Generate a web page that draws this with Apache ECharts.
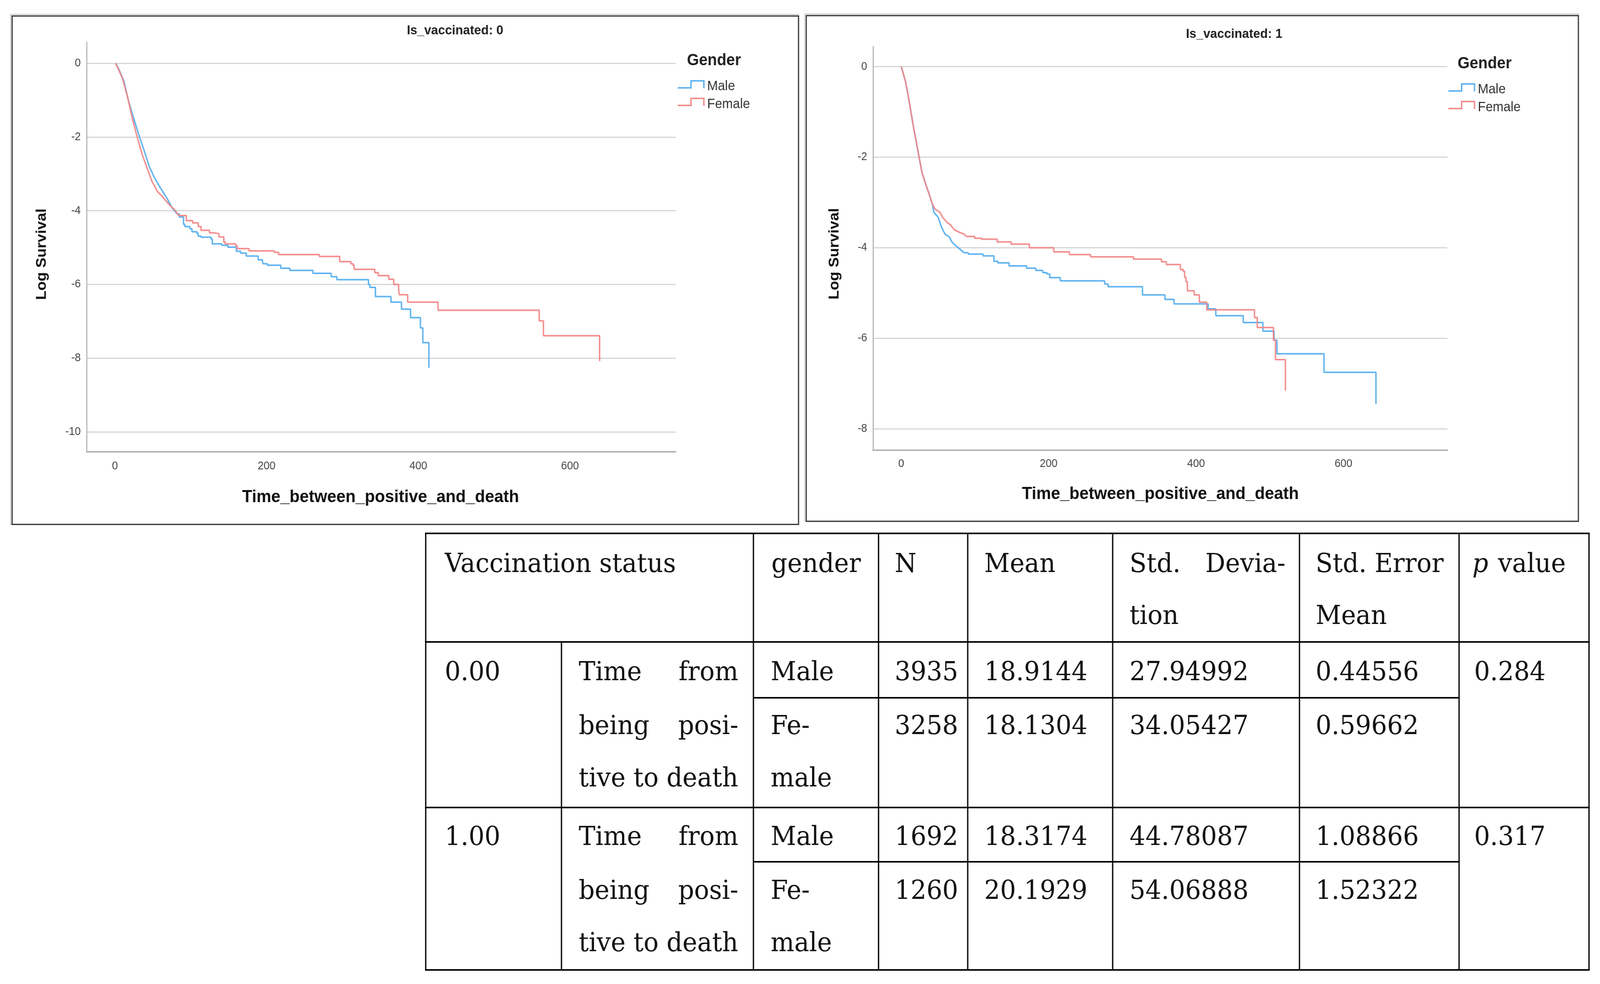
<!DOCTYPE html>
<html>
<head>
<meta charset="utf-8">
<script src="https://cdn.jsdelivr.net/npm/echarts@6/dist/echarts.min.js"></script>
<style>html,body{margin:0;padding:0;background:#fff;overflow:hidden;}#wrap{width:4360px;height:2520px;transform-origin:0 0;}#c{width:4360px;height:2520px;}</style>
</head>
<body>
<div id="wrap"><div id="c"></div></div>
<script>
// ---------------- data: panel 0 (Is_vaccinated: 0) ----------------
const unvacMaleEarly = [[1,0],[5,-0.15],[11.8,-0.48],[18.3,-1.05],[24.8,-1.49],[32.5,-2.0],[39.6,-2.43],[45.1,-2.79],[52.5,-3.12],[61.8,-3.44],[69.2,-3.68],[75.7,-3.93],[82.2,-4.09]];
const unvacMaleSteps = [[82.2,-4.09],[85,-4.17],[90.5,-4.37],[92.3,-4.43],[98.8,-4.49],[101.6,-4.57],[108,-4.61],[109.9,-4.69],[113.6,-4.72],[126.9,-4.77],[128.4,-4.90],[140.8,-4.94],[149.1,-4.99],[158.4,-5.01],[160.2,-5.10],[165.8,-5.15],[173.2,-5.23],[188.9,-5.33],[194.5,-5.37],[195.4,-5.44],[201,-5.48],[218.6,-5.56],[230.6,-5.62],[261.1,-5.70],[285.2,-5.79],[292.6,-5.87],[334.3,-6.0],[336.1,-6.08],[343.5,-6.33],[363.9,-6.48],[377.8,-6.67],[389.8,-6.90],[402.8,-7.18],[406,-7.58],[414,-8.26]];
const unvacFemaleEarly = [[1,0],[9.9,-0.40],[16.4,-0.89],[22.9,-1.49],[29.4,-2.0],[35.9,-2.47],[42.3,-2.83],[48.8,-3.20],[56.2,-3.48],[63.6,-3.64],[71,-3.82],[78.5,-3.97],[84,-4.13]];
const unvacFemaleSteps = [[84,-4.13],[94.2,-4.27],[102.5,-4.33],[109.9,-4.43],[113.6,-4.53],[124.7,-4.60],[129.7,-4.62],[137.1,-4.71],[143.6,-4.85],[145.4,-4.90],[159.3,-4.95],[161.2,-5.03],[176.9,-5.09],[210.2,-5.13],[215.8,-5.19],[269.5,-5.24],[296.3,-5.38],[311.1,-5.44],[313.9,-5.48],[315.4,-5.59],[342.6,-5.68],[347.2,-5.76],[361.1,-5.86],[367.6,-6.0],[374.1,-6.15],[375,-6.28],[386,-6.48],[426,-6.70],[559.4,-6.99],[565,-7.39],[639,-8.08]];

// ---------------- data: panel 1 (Is_vaccinated: 1) ----------------
const vacMaleEarly = [[0,0],[6.1,-0.35],[10.9,-0.78],[15.6,-1.24],[20.4,-1.67],[24.2,-2.0],[28,-2.33],[33.7,-2.62],[38.5,-2.85],[42.3,-3.04],[44.2,-3.22],[49.9,-3.32],[54.7,-3.55],[59.5,-3.70],[65.2,-3.76],[69,-3.88],[75.7,-3.98],[80.4,-4.04],[85.2,-4.11]];
const vacMaleSteps = [[85.2,-4.11],[90.9,-4.14],[110.9,-4.18],[125.7,-4.30],[131,-4.335],[146.3,-4.40],[170.1,-4.45],[182.5,-4.50],[192,-4.55],[197.7,-4.58],[201.5,-4.66],[215.8,-4.73],[275.9,-4.80],[280.6,-4.86],[327.3,-5.04],[357.8,-5.14],[370.2,-5.24],[416.4,-5.35],[426.8,-5.50],[464,-5.65],[490.7,-5.84],[505.9,-6.04],[509.8,-6.34],[573.6,-6.75],[644.1,-7.445]];
const vacFemaleEarly = [[0,0],[6.1,-0.35],[10.9,-0.78],[15.6,-1.24],[20.4,-1.67],[24.2,-2.0],[28,-2.33],[33.7,-2.62],[38.5,-2.85],[42.3,-3.04],[46.1,-3.15],[52.8,-3.22],[55.7,-3.32],[61.4,-3.43],[67.1,-3.50],[71.9,-3.60],[77.6,-3.65],[85.2,-3.70],[88.1,-3.75]];
const vacFemaleSteps = [[88.1,-3.75],[99.5,-3.79],[109,-3.81],[130.1,-3.87],[149.1,-3.92],[173.9,-4.0],[206.9,-4.09],[228.2,-4.15],[256.8,-4.20],[315,-4.25],[353.1,-4.31],[359.7,-4.37],[378.8,-4.48],[382.6,-4.52],[384.5,-4.65],[386.4,-4.75],[388.3,-4.95],[397.5,-5.04],[404.5,-5.20],[414.5,-5.37],[479.3,-5.54],[483.1,-5.76],[505,-6.04],[507.8,-6.47],[521.2,-7.15]];

// ---------------- ticks / labels ----------------
const xTicks = [0, 200, 400, 600];
const yTicks0 = [-10, -8, -6, -4, -2, 0];
const yTicks1 = [-8, -6, -4, -2, 0];
const panelTitles = ['Is_vaccinated: 0', 'Is_vaccinated: 1'];
const xAxisTitle = 'Time_between_positive_and_death';
const yAxisTitle = 'Log Survival';
const legendTitle = 'Gender';
const legendNames = ['Male', 'Female'];

// ---------------- table ----------------
const tableHeader = ['Vaccination status', 'gender', 'N', 'Mean', 'Std.', 'Devia-', 'tion', 'Std. Error', 'Mean', 'p', 'value'];
const vaccStatus = ['0.00', '1.00'];
const measureText = ['Time', 'from', 'being', 'posi-', 'tive to death'];
const genderText = ['Male', 'Fe-', 'male'];
const nValues = [['3935', '3258'], ['1692', '1260']];
const meanValues = [['18.9144', '18.1304'], ['18.3174', '20.1929']];
const stdDevValues = [['27.94992', '34.05427'], ['44.78087', '54.06888']];
const stdErrValues = [['0.44556', '0.59662'], ['1.08866', '1.52322']];
const pValues = ['0.284', '0.317'];

const BLUE = '#52adf0';
const RED = '#f28484';
const SANS = '"Liberation Sans", Arial, sans-serif';
const SERIF = '"DejaVu Serif", serif';

// fit the 4360x2520 drawing into the actual viewport
(function () {
  const sx = window.innerWidth / 4360, sy = window.innerHeight / 2520;
  if (sx > 0 && sy > 0 && (Math.abs(sx - 1) > 0.001 || Math.abs(sy - 1) > 0.001)) {
    document.getElementById('wrap').style.transform = 'scale(' + sx + ',' + sy + ')';
  }
})();

const chart = echarts.init(document.getElementById('c'), null, {renderer: 'canvas', width: 4360, height: 2520});

function xAxisCfg(gi, min, max, margin) {
  return {
    gridIndex: gi, type: 'value', min: min, max: max,
    axisLine: {show: true, onZero: false, lineStyle: {color: '#b5b5b5', width: 4}},
    axisTick: {show: false},
    splitLine: {show: false},
    axisLabel: {customValues: xTicks, color: '#444', fontSize: 29, fontFamily: SANS, margin: margin}
  };
}
function yAxisCfg(gi, min, max, ticks) {
  return {
    gridIndex: gi, type: 'value', min: min, max: max,
    axisLine: {show: true, onZero: false, lineStyle: {color: '#b5b5b5', width: 3}},
    axisTick: {show: false, customValues: ticks},
    splitLine: {show: true, lineStyle: {color: '#d6d6d6', width: 3}},
    axisLabel: {customValues: ticks, color: '#444', fontSize: 29, fontFamily: SANS, margin: 16}
  };
}
function ser(name, data, gi, color, step, z) {
  return {
    type: 'line', name: name, xAxisIndex: gi, yAxisIndex: gi, data: data,
    showSymbol: false, symbol: 'none', step: step ? 'end' : false, smooth: false,
    lineStyle: {color: color, width: 4, opacity: 0.9}, itemStyle: {color: color},
    silent: true, z: z, animation: false
  };
}

// ---------- graphics ----------
const g = [];
function frame(x, y, w, h) {
  g.push({type: 'rect', shape: {x: x - 4, y: y - 4, width: w + 4, height: h + 4}, style: {fill: 'none', stroke: '#cfcfcf', lineWidth: 3}, silent: true});
  g.push({type: 'rect', shape: {x: x, y: y, width: w, height: h}, style: {fill: 'none', stroke: '#2e2e2e', lineWidth: 3}, silent: true});
}
frame(33, 41, 2143, 1302);
frame(2197, 40, 2104, 1295);

function txt(text, x, y, font, color, align, extra) {
  const el = {type: 'text', x: x, y: y, silent: true,
    style: {text: text, font: font, fill: color, textAlign: align || 'left', textVerticalAlign: 'middle', align: align || 'left', verticalAlign: 'middle'}};
  if (extra) Object.assign(el, extra);
  g.push(el);
}
// titles
txt(panelTitles[0], 1240, 79, 'bold 34px ' + SANS, '#222', 'center');
txt(panelTitles[1], 3363, 88, 'bold 34px ' + SANS, '#222', 'center');
// axis titles
txt(xAxisTitle, 1037, 1274, 'bold 45px ' + SANS, '#111', 'center');
txt(xAxisTitle, 3162, 1266, 'bold 45px ' + SANS, '#111', 'center');
txt(yAxisTitle, 114, 651, 'bold 39px ' + SANS, '#111', 'center', {rotation: Math.PI / 2});
txt(yAxisTitle, 2274, 650, 'bold 39px ' + SANS, '#111', 'center', {rotation: Math.PI / 2});
// legends
function legend(dx, dy) {
  txt(legendTitle, 1872 + dx, 155 + dy, 'bold 42px ' + SANS, '#222', 'left');
  const cols = [BLUE, RED];
  for (let i = 0; i < 2; i++) {
    const yl = 225 + dy + i * 45, yh = 207 + dy + i * 45;
    g.push({type: 'polyline', silent: true, shape: {points: [[1847 + dx, yl], [1883 + dx, yl], [1883 + dx, yh], [1918 + dx, yh], [1918 + dx, yl + 1]]},
      style: {stroke: cols[i], lineWidth: 4, fill: 'none', opacity: 0.9}});
    txt(legendNames[i], 1927 + dx, 221 + dy + i * 46, '35px ' + SANS, '#333', 'left');
  }
}
legend(0, 0);
legend(2100, 8);

// table lines
const colX = [1160, 1530, 2053, 2394, 2637, 3032, 3541, 3976, 4330];
const TOP = 1366, HDR = 1644, BOT = 2484;
const groupTop = [1644, 2068];
function hline(x1, x2, y) { g.push({type: 'line', silent: true, shape: {x1: x1, y1: y, x2: x2, y2: y}, style: {stroke: '#000', lineWidth: 4}}); }
function vline(x, y1, y2) { g.push({type: 'line', silent: true, shape: {x1: x, y1: y1, x2: x, y2: y2}, style: {stroke: '#000', lineWidth: 3.5}}); }
hline(colX[0] - 2, colX[8] + 2, TOP);
hline(colX[0] - 2, colX[8] + 2, HDR);
hline(colX[0] - 2, colX[8] + 2, groupTop[1]);
hline(colX[0] - 2, colX[8] + 2, BOT);
hline(colX[2], colX[7], groupTop[0] + 143);
hline(colX[2], colX[7], groupTop[1] + 139);
colX.forEach(function (x, i) { vline(x, i === 1 ? HDR : TOP, BOT); });

// table text
const TF = '68px ' + SERIF;
const TC = '#111';
const hy1 = 1447, hy2 = 1580;
txt(tableHeader[0], 1212, hy1, TF, TC);
txt(tableHeader[1], 2102, hy1, TF, TC);
txt(tableHeader[2], 2438, hy1, TF, TC);
txt(tableHeader[3], 2682, hy1, TF, TC);
txt(tableHeader[4], 3078, hy1, TF, TC);
txt(tableHeader[5], 3503, hy1, TF, TC, 'right');
txt(tableHeader[6], 3078, hy2, TF, TC);
txt(tableHeader[7], 3585, hy1, TF, TC);
txt(tableHeader[8], 3585, hy2, TF, TC);
txt(tableHeader[9], 4012, hy1, 'italic ' + TF, TC);
txt(tableHeader[10], 4082, hy1, TF, TC);

const lineOff = [80, 218, 352];
for (let k = 0; k < 2; k++) {
  const t0 = groupTop[k];
  const y1 = t0 + lineOff[0] - (k ? 2 : 0), y2 = t0 + lineOff[1] - (k ? 2 : 0), y3 = t0 + lineOff[2] - (k ? 2 : 0);
  txt(vaccStatus[k], 1212, y1, TF, TC);
  txt(measureText[0], 1577, y1, TF, TC);
  txt(measureText[1], 2012, y1, TF, TC, 'right');
  txt(measureText[2], 1577, y2, TF, TC);
  txt(measureText[3], 2012, y2, TF, TC, 'right');
  txt(measureText[4], 1577, y3, TF, TC);
  txt(genderText[0], 2100, y1, TF, TC);
  txt(genderText[1], 2100, y2, TF, TC);
  txt(genderText[2], 2100, y3, TF, TC);
  txt(nValues[k][0], 2438, y1, TF, TC);
  txt(nValues[k][1], 2438, y2, TF, TC);
  txt(meanValues[k][0], 2682, y1, TF, TC);
  txt(meanValues[k][1], 2682, y2, TF, TC);
  txt(stdDevValues[k][0], 3078, y1, TF, TC);
  txt(stdDevValues[k][1], 3078, y2, TF, TC);
  txt(stdErrValues[k][0], 3585, y1, TF, TC);
  txt(stdErrValues[k][1], 3585, y2, TF, TC);
  txt(pValues[k], 4017, y1, TF, TC);
}

const option = {
  backgroundColor: '#ffffff',
  animation: false,
  grid: [
    {left: 236, top: 108, width: 1605, height: 1049, containLabel: false},
    {left: 2379, top: 119, width: 1565, height: 1034, containLabel: false}
  ],
  xAxis: [xAxisCfg(0, -37.25, 739.2, 22), xAxisCfg(1, -38.3, 741, 20)],
  yAxis: [yAxisCfg(0, -10.54, 0.572, yTicks0), yAxisCfg(1, -8.47, 0.444, yTicks1)],
  series: [
    ser('Male', unvacMaleEarly, 0, BLUE, false, 2),
    ser('Male', unvacMaleSteps, 0, BLUE, true, 2),
    ser('Female', unvacFemaleEarly, 0, RED, false, 3),
    ser('Female', unvacFemaleSteps, 0, RED, true, 3),
    ser('Male', vacMaleEarly, 1, BLUE, false, 2),
    ser('Male', vacMaleSteps, 1, BLUE, true, 2),
    ser('Female', vacFemaleEarly, 1, RED, false, 3),
    ser('Female', vacFemaleSteps, 1, RED, true, 3)
  ],
  graphic: g
};
chart.setOption(option);
</script>
</body>
</html>
